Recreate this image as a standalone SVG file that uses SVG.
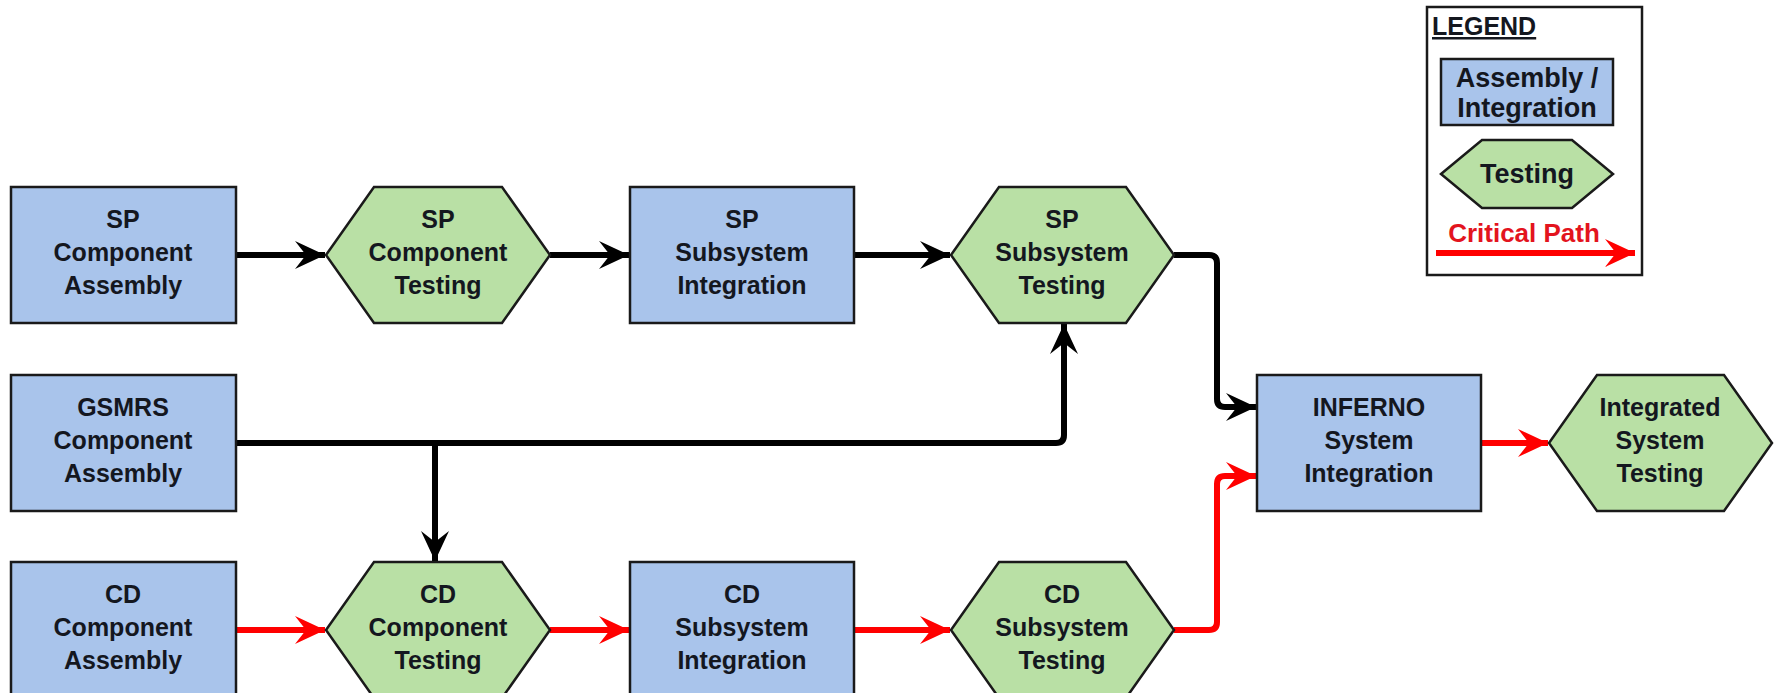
<svg xmlns="http://www.w3.org/2000/svg" width="1779" height="693" viewBox="0 0 1779 693">
  <defs>
    <style>
      .asm { fill: #A9C4EB; stroke: #1a1a1a; stroke-width: 2.5; }
      .tst { fill: #B9E0A5; stroke: #1a1a1a; stroke-width: 2.5; }
      .lbl { font-family: "Liberation Sans", Arial, sans-serif; font-weight: bold; font-size: 25px; fill: #14171f; text-anchor: middle; }
      .blk { fill: none; stroke: #000; stroke-width: 6; }
      .crit { fill: none; stroke: #ff0000; stroke-width: 6; }
      .leg { font-family: "Liberation Sans", Arial, sans-serif; font-weight: bold; font-size: 27px; fill: #14171f; text-anchor: middle; }
    </style>
    <marker id="arrowBlack" markerUnits="userSpaceOnUse" markerWidth="31" markerHeight="28" refX="30" refY="14" orient="auto">
      <path d="M0,0 L30,14 L0,28 L11,14 Z" fill="#000"/>
    </marker>
    <marker id="arrowRed" markerUnits="userSpaceOnUse" markerWidth="31" markerHeight="28" refX="30" refY="14" orient="auto">
      <path d="M0,0 L30,14 L0,28 L11,14 Z" fill="#ff0000"/>
    </marker>
  </defs>

  <rect width="1779" height="693" fill="#ffffff"/>

  <!-- connectors -->
  <g id="connectors">
    <path class="blk" d="M236,255 H325" marker-end="url(#arrowBlack)"/>
    <path class="blk" d="M550,255 H629" marker-end="url(#arrowBlack)"/>
    <path class="blk" d="M854,255 H950" marker-end="url(#arrowBlack)"/>
    <path class="blk" d="M1174,255 H1209 Q1217,255 1217,263 V399 Q1217,407 1225,407 H1256" marker-end="url(#arrowBlack)"/>
    <path class="blk" d="M236,443 H1056 Q1064,443 1064,435 V324" marker-end="url(#arrowBlack)"/>
    <path class="blk" d="M435,443 V561" marker-end="url(#arrowBlack)"/>
    <path class="crit" d="M236,630 H325" marker-end="url(#arrowRed)"/>
    <path class="crit" d="M550,630 H629" marker-end="url(#arrowRed)"/>
    <path class="crit" d="M854,630 H950" marker-end="url(#arrowRed)"/>
    <path class="crit" d="M1174,630 H1209 Q1217,630 1217,622 V484 Q1217,476 1225,476 H1256" marker-end="url(#arrowRed)"/>
    <path class="crit" d="M1481,443 H1548" marker-end="url(#arrowRed)"/>
  </g>

  <!-- row 1: SP -->
  <g id="sp-component-assembly">
    <rect class="asm" x="11" y="187" width="225" height="136"/>
    <text class="lbl" x="123" y="228">SP</text>
    <text class="lbl" x="123" y="261">Component</text>
    <text class="lbl" x="123" y="294">Assembly</text>
  </g>
  <g id="sp-component-testing">
    <polygon class="tst" points="326,255 374,187 502,187 550,255 502,323 374,323"/>
    <text class="lbl" x="438" y="228">SP</text>
    <text class="lbl" x="438" y="261">Component</text>
    <text class="lbl" x="438" y="294">Testing</text>
  </g>
  <g id="sp-subsystem-integration">
    <rect class="asm" x="630" y="187" width="224" height="136"/>
    <text class="lbl" x="742" y="228">SP</text>
    <text class="lbl" x="742" y="261">Subsystem</text>
    <text class="lbl" x="742" y="294">Integration</text>
  </g>
  <g id="sp-subsystem-testing">
    <polygon class="tst" points="951,255 999,187 1126,187 1174,255 1126,323 999,323"/>
    <text class="lbl" x="1062" y="228">SP</text>
    <text class="lbl" x="1062" y="261">Subsystem</text>
    <text class="lbl" x="1062" y="294">Testing</text>
  </g>

  <!-- row 2: GSMRS / system level -->
  <g id="gsmrs-component-assembly">
    <rect class="asm" x="11" y="375" width="225" height="136"/>
    <text class="lbl" x="123" y="416">GSMRS</text>
    <text class="lbl" x="123" y="449">Component</text>
    <text class="lbl" x="123" y="482">Assembly</text>
  </g>
  <g id="inferno-system-integration">
    <rect class="asm" x="1257" y="375" width="224" height="136"/>
    <text class="lbl" x="1369" y="416">INFERNO</text>
    <text class="lbl" x="1369" y="449">System</text>
    <text class="lbl" x="1369" y="482">Integration</text>
  </g>
  <g id="integrated-system-testing">
    <polygon class="tst" points="1549,443 1597,375 1724,375 1772,443 1724,511 1597,511"/>
    <text class="lbl" x="1660" y="416">Integrated</text>
    <text class="lbl" x="1660" y="449">System</text>
    <text class="lbl" x="1660" y="482">Testing</text>
  </g>

  <!-- row 3: CD -->
  <g id="cd-component-assembly">
    <rect class="asm" x="11" y="562" width="225" height="136"/>
    <text class="lbl" x="123" y="603">CD</text>
    <text class="lbl" x="123" y="636">Component</text>
    <text class="lbl" x="123" y="669">Assembly</text>
  </g>
  <g id="cd-component-testing">
    <polygon class="tst" points="326,630 374,562 502,562 550,630 502,698 374,698"/>
    <text class="lbl" x="438" y="603">CD</text>
    <text class="lbl" x="438" y="636">Component</text>
    <text class="lbl" x="438" y="669">Testing</text>
  </g>
  <g id="cd-subsystem-integration">
    <rect class="asm" x="630" y="562" width="224" height="136"/>
    <text class="lbl" x="742" y="603">CD</text>
    <text class="lbl" x="742" y="636">Subsystem</text>
    <text class="lbl" x="742" y="669">Integration</text>
  </g>
  <g id="cd-subsystem-testing">
    <polygon class="tst" points="951,630 999,562 1126,562 1174,630 1126,698 999,698"/>
    <text class="lbl" x="1062" y="603">CD</text>
    <text class="lbl" x="1062" y="636">Subsystem</text>
    <text class="lbl" x="1062" y="669">Testing</text>
  </g>

  <!-- legend -->
  <g id="legend">
    <rect x="1427" y="7" width="215" height="268" fill="#ffffff" stroke="#1a1a1a" stroke-width="2.5"/>
    <text x="1432" y="35" font-family="'Liberation Sans', Arial, sans-serif" font-weight="bold" font-size="25" fill="#14171f" text-decoration="underline">LEGEND</text>
    <rect class="asm" x="1441" y="59" width="172" height="66"/>
    <text class="leg" x="1527" y="87">Assembly /</text>
    <text class="leg" x="1527" y="117">Integration</text>
    <polygon class="tst" points="1441,174 1482,140 1572,140 1613,174 1572,208 1482,208"/>
    <text class="leg" x="1527" y="183">Testing</text>
    <text x="1524" y="242" font-family="'Liberation Sans', Arial, sans-serif" font-weight="bold" font-size="26" fill="#e3141e" text-anchor="middle">Critical Path</text>
    <path class="crit" d="M1436,253 H1635" marker-end="url(#arrowRed)"/>
  </g>
</svg>
